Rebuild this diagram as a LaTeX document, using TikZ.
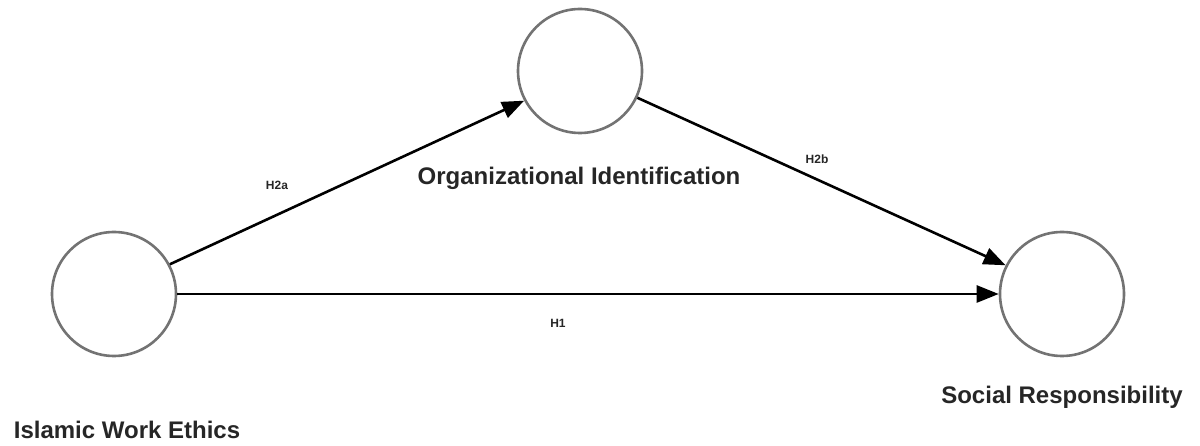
\documentclass[tikz,border=0pt]{standalone}
\usepackage{fontspec}
\setmainfont{Liberation Sans}
\usetikzlibrary{arrows.meta}
\begin{document}
\begin{tikzpicture}[x=1pt,y=-1pt,
  latent/.style={circle,draw=black!55,line width=2.6pt,fill=white,minimum size=124pt,inner sep=0pt},
  path/.style={line width=2.6pt,draw=black,-{Triangle[length=22pt,width=17pt]}},
  varlabel/.style={font=\bfseries\fontsize{24}{28}\selectfont,text=black!85,inner sep=0pt},
  hlabel/.style={font=\bfseries\fontsize{12}{14}\selectfont,text=black!85,inner sep=0pt}]
\useasboundingbox (0,0) rectangle (1200,446);
\node[latent] (iwe) at (114,294) {};
\node[latent] (oi) at (580,71) {};
\node[latent] (sr) at (1062,294) {};
\node[varlabel] (liwe) at (127,430) {Islamic Work Ethics};
\node[varlabel] (loi) at (579,178) {Organizational Identification};
\node[varlabel] (lsr) at (1062,397) {Social Responsibility};
\draw[path] (iwe.28) -- (oi.208);
\draw[path] (oi.-25) -- (sr.153);
\draw[path] (iwe.east) -- (sr.west);
\node[hlabel] (h2a) at (277,185) {H2a};
\node[hlabel] (h2b) at (817,159) {H2b};
\node[hlabel] (h1) at (558,323) {H1};
\end{tikzpicture}
\end{document}
